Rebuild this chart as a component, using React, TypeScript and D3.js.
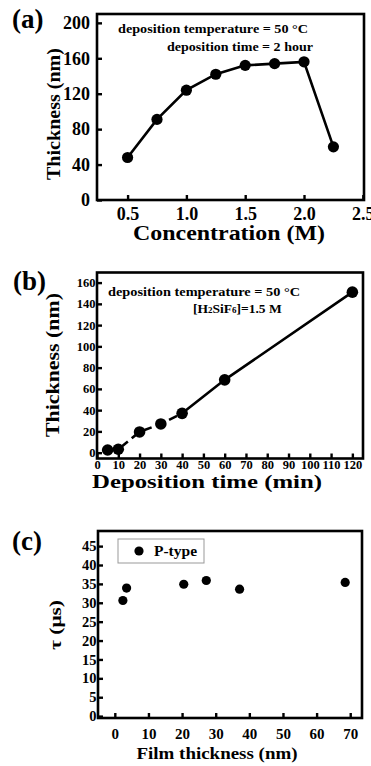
import React, { useEffect, useRef } from "react";
import * as d3 from "d3";

// (a) thickness vs H2SiF6 concentration
const concM = [0.5, 0.75, 1.0, 1.25, 1.5, 1.75, 2.0, 2.25];
const thickA = [48, 91, 124, 142, 152, 154, 156, 60];
const ticksAX = [0.5, 1.0, 1.5, 2.0, 2.5];
const ticksAY = [0, 40, 80, 120, 160, 200];

// (b) thickness vs deposition time
const timeMin = [5, 10, 20, 30, 40, 60, 120];
const thickB = [2.5, 3.2, 19.5, 27, 37, 68.5, 151];
const dashedEnd = 4; // index of last point on the dashed part
const ticksBX = [0, 10, 20, 30, 40, 50, 60, 70, 80, 90, 100, 110, 120];
const ticksBY = [0, 20, 40, 60, 80, 100, 120, 140, 160];

// (c) lifetime vs film thickness
const filmNm = [2.4, 3.5, 20.5, 27.2, 37.1, 68.5];
const tauUs = [30.6, 33.9, 34.9, 35.9, 33.6, 35.4];
const ticksCX = [0, 10, 20, 30, 40, 50, 60, 70];
const ticksCY = [0, 5, 10, 15, 20, 25, 30, 35, 40, 45];

const FONT = "'Liberation Serif', 'Times New Roman', serif";

function label(svg, txt, x, y, size, opts: any = {}) {
  const t = svg
    .append("text")
    .attr("x", x)
    .attr("y", y)
    .attr("font-family", FONT)
    .attr("font-weight", "bold")
    .attr("font-size", size)
    .attr("fill", "#000")
    .attr("text-anchor", opts.anchor || "start")
    .text(txt);
  if (opts.len) t.attr("textLength", opts.len).attr("lengthAdjust", "spacingAndGlyphs");
  return t;
}

function yLabel(svg, txt, x, y, size, len) {
  svg
    .append("text")
    .attr("transform", `translate(${x},${y}) rotate(-90)`)
    .attr("font-family", FONT)
    .attr("font-weight", "bold")
    .attr("font-size", size)
    .attr("text-anchor", "middle")
    .attr("textLength", len)
    .attr("lengthAdjust", "spacingAndGlyphs")
    .text(txt);
}

function frame(svg, x, y, xt, yt, o) {
  const [x0, x1] = x.range();
  const [y0, y1] = y.range();
  const gx = svg
    .append("g")
    .attr("transform", `translate(0,${y0})`)
    .call(
      d3.axisBottom(x).tickValues(xt).tickSizeInner(-o.tick).tickSizeOuter(0)
        .tickPadding(o.xPad).tickFormat(o.xFmt || d3.format("d"))
    );
  const gy = svg
    .append("g")
    .attr("transform", `translate(${x0},0)`)
    .call(
      d3.axisLeft(y).tickValues(yt).tickSizeInner(-o.tick).tickSizeOuter(0)
        .tickPadding(o.yPad).tickFormat(d3.format("d"))
    );
  [gx, gy].forEach((g) => {
    g.select(".domain").remove();
    g.selectAll("line").attr("stroke", "#000").attr("stroke-width", 2.4);
  });
  gx.selectAll("text").attr("font-size", o.xFont).attr("font-family", FONT)
    .attr("font-weight", "bold").attr("fill", "#000");
  gy.selectAll("text").attr("font-size", o.yFont).attr("font-family", FONT)
    .attr("font-weight", "bold").attr("fill", "#000");
  svg
    .append("rect")
    .attr("x", x0)
    .attr("y", y1)
    .attr("width", x1 - x0)
    .attr("height", y0 - y1)
    .attr("fill", "none")
    .attr("stroke", "#000")
    .attr("stroke-width", 2.6);
}

const App = () => {
  const svgRef = useRef(null);

  useEffect(() => {
    const svg = d3.select(svgRef.current);
    svg.selectAll("*").remove();

    // ---- (a)
    const xA = d3.scaleLinear().domain([0.24, 2.51]).range([97, 364]);
    const yA = d3.scaleLinear().domain([0, 210]).range([200, 14]);
    frame(svg, xA, yA, ticksAX, ticksAY, {
      tick: 5, xPad: 7, yPad: 7, xFont: 18, yFont: 18, xFmt: d3.format(".1f"),
    });
    const ptsA = concM.map((c, i) => [c, thickA[i]]);
    svg.append("path")
      .attr("d", d3.line().x((d) => xA(d[0])).y((d) => yA(d[1]))(ptsA))
      .attr("fill", "none").attr("stroke", "#000").attr("stroke-width", 2.6);
    svg.append("g").selectAll("circle").data(ptsA).enter().append("circle")
      .attr("cx", (d) => xA(d[0])).attr("cy", (d) => yA(d[1])).attr("r", 5.6).attr("fill", "#000");
    label(svg, "(a)", 12, 28, 27);
    label(svg, "deposition temperature = 50 °C", 118, 33, 13.5, { len: 190 });
    label(svg, "deposition time = 2 hour", 167, 51, 13.5, { len: 146 });
    label(svg, "Concentration (M)", 229, 240, 20, { anchor: "middle", len: 192 });
    yLabel(svg, "Thickness (nm)", 60, 114, 19, 132);

    // ---- (b)
    const xB = d3.scaleLinear().domain([0, 125]).range([97, 363]);
    const yB = d3.scaleLinear().domain([-5.5, 169.5]).range([458.5, 272.5]);
    frame(svg, xB, yB, ticksBX, ticksBY, {
      tick: 5, xPad: 2, yPad: 1.5, xFont: 12.5, yFont: 12.5,
    });
    const ptsB = timeMin.map((t, i) => [t, thickB[i]]);
    const lineB = d3.line().x((d) => xB(d[0])).y((d) => yB(d[1]));
    svg.append("path")
      .attr("d", lineB(ptsB.slice(0, dashedEnd + 1)))
      .attr("fill", "none").attr("stroke", "#000").attr("stroke-width", 2.6)
      .attr("stroke-dasharray", "9,5");
    svg.append("path")
      .attr("d", lineB(ptsB.slice(dashedEnd)))
      .attr("fill", "none").attr("stroke", "#000").attr("stroke-width", 2.6);
    svg.append("g").selectAll("circle").data(ptsB).enter().append("circle")
      .attr("cx", (d) => xB(d[0])).attr("cy", (d) => yB(d[1])).attr("r", 5.8).attr("fill", "#000");
    label(svg, "(b)", 13, 290, 27);
    label(svg, "deposition temperature = 50 °C", 108, 296, 13.5, { len: 192 });
    const h = label(svg, "", 193, 313, 13.5);
    h.append("tspan").text("[H");
    h.append("tspan").attr("font-size", 9).text("2");
    h.append("tspan").text("SiF");
    h.append("tspan").attr("font-size", 9).text("6");
    h.append("tspan").text("]=1.5 M");
    label(svg, "Deposition time (min)", 207, 488, 19, { anchor: "middle", len: 230 });
    yLabel(svg, "Thickness (nm)", 59, 365, 19, 144);

    // ---- (c)
    const xC = d3.scaleLinear().domain([-5, 73.5]).range([98, 362]);
    const yC = d3.scaleLinear().domain([-0.5, 49]).range([718, 531]);
    frame(svg, xC, yC, ticksCX, ticksCY, {
      tick: 5, xPad: 10, yPad: 1.5, xFont: 15, yFont: 14.5,
    });
    svg.append("g").selectAll("circle").data(filmNm).enter().append("circle")
      .attr("cx", (d) => xC(d)).attr("cy", (d, i) => yC(tauUs[i])).attr("r", 4.6).attr("fill", "#000");
    svg.append("rect").attr("x", 118).attr("y", 539).attr("width", 86).attr("height", 24)
      .attr("fill", "#fff").attr("stroke", "#999").attr("stroke-width", 1);
    svg.append("circle").attr("cx", 139).attr("cy", 551).attr("r", 4.6).attr("fill", "#000");
    label(svg, "P-type", 154, 556, 14.5, { len: 43 });
    label(svg, "(c)", 12, 550, 27);
    label(svg, "Film thickness (nm)", 217, 759, 17.5, { anchor: "middle", len: 161 });
    yLabel(svg, "τ (μs)", 61, 625, 17, 50);
  }, []);

  return (
    <div>
      <svg
        ref={svgRef}
        width={371}
        height={766}
        style={{ position: "absolute", left: 0, top: 0, background: "#fff" }}
      ></svg>
    </div>
  );
};

export default App;
